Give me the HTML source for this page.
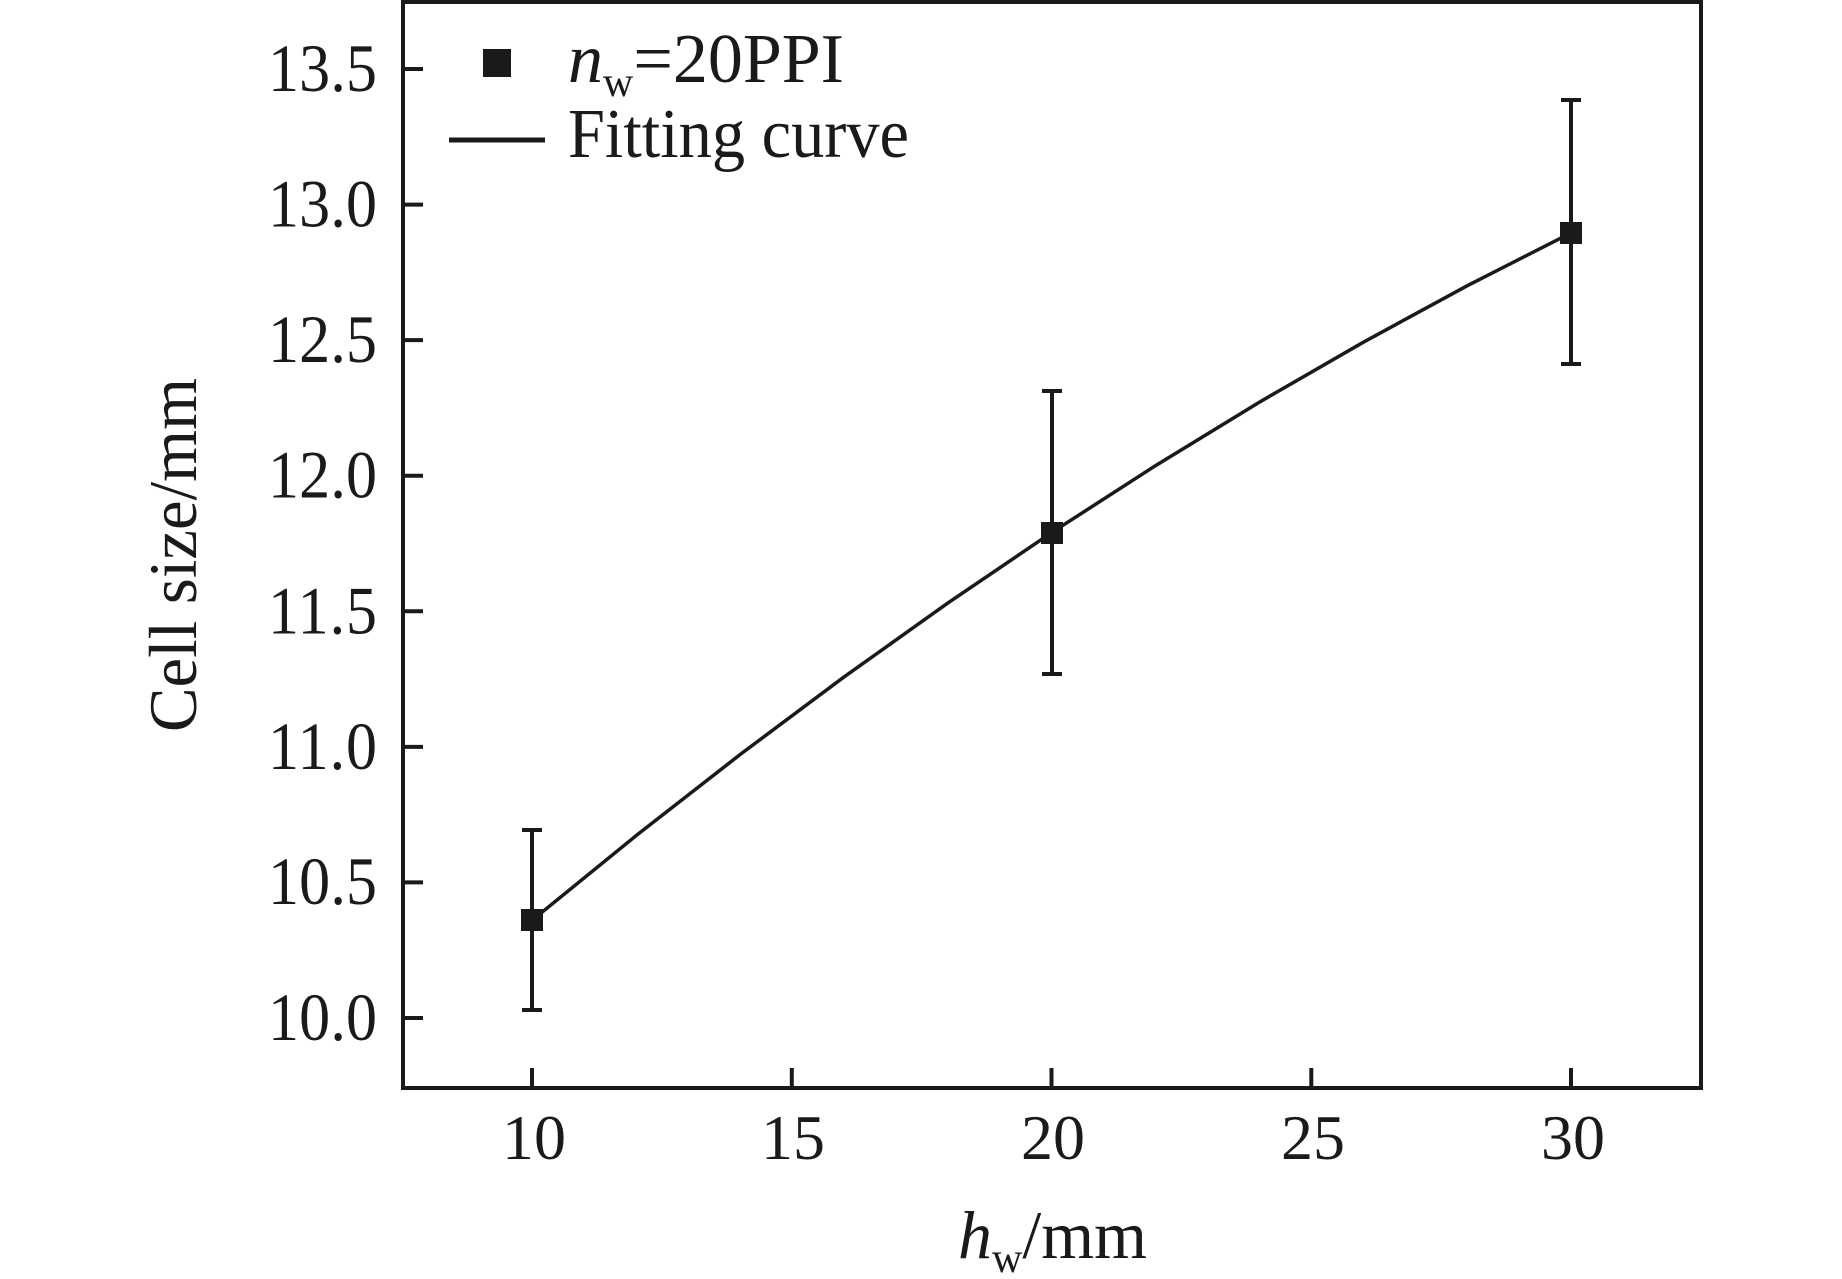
<!DOCTYPE html>
<html><head><meta charset="utf-8"><style>html,body{margin:0;padding:0;background:#fff}svg{display:block}</style></head>
<body>
<svg width="1842" height="1279" viewBox="0 0 1842 1279" xmlns="http://www.w3.org/2000/svg" font-family="Liberation Serif, serif" fill="#1a1a1a">
<rect x="0" y="0" width="1842" height="1279" fill="#fff"/>
<rect x="403" y="2" width="1298" height="1086" fill="none" stroke="#1a1a1a" stroke-width="4"/>
<g stroke="#1a1a1a" stroke-width="4">
<line x1="403" y1="1018" x2="423" y2="1018"/>
<line x1="403" y1="882.4" x2="423" y2="882.4"/>
<line x1="403" y1="746.9" x2="423" y2="746.9"/>
<line x1="403" y1="611.3" x2="423" y2="611.3"/>
<line x1="403" y1="475.7" x2="423" y2="475.7"/>
<line x1="403" y1="340.1" x2="423" y2="340.1"/>
<line x1="403" y1="204.6" x2="423" y2="204.6"/>
<line x1="403" y1="69" x2="423" y2="69"/>
<line x1="532" y1="1088" x2="532" y2="1068"/>
<line x1="791.8" y1="1088" x2="791.8" y2="1068"/>
<line x1="1051.5" y1="1088" x2="1051.5" y2="1068"/>
<line x1="1311.3" y1="1088" x2="1311.3" y2="1068"/>
<line x1="1571" y1="1088" x2="1571" y2="1068"/>
</g>
<g font-size="62" text-anchor="end">
<text x="377" y="1040" textLength="109" transform="translate(0,-104) scale(1,1.1)">10.0</text>
<text x="377" y="904" textLength="109" transform="translate(0,-90.4) scale(1,1.1)">10.5</text>
<text x="377" y="768.9" textLength="109" transform="translate(0,-76.9) scale(1,1.1)">11.0</text>
<text x="377" y="633.3" textLength="109" transform="translate(0,-63.3) scale(1,1.1)">11.5</text>
<text x="377" y="497.7" textLength="109" transform="translate(0,-49.8) scale(1,1.1)">12.0</text>
<text x="377" y="362.1" textLength="109" transform="translate(0,-36.2) scale(1,1.1)">12.5</text>
<text x="377" y="226.6" textLength="109" transform="translate(0,-22.7) scale(1,1.1)">13.0</text>
<text x="377" y="91" textLength="109" transform="translate(0,-9.1) scale(1,1.1)">13.5</text>
</g>
<g font-size="64" text-anchor="middle">
<text x="534" y="1159">10</text>
<text x="793" y="1159">15</text>
<text x="1053" y="1159">20</text>
<text x="1313" y="1159">25</text>
<text x="1573" y="1159">30</text>
</g>
<text font-size="68" transform="translate(196,732) rotate(-90)" textLength="354" lengthAdjust="spacingAndGlyphs">Cell size/mm</text>
<text x="958" y="1258" font-size="68"><tspan font-style="italic">h</tspan><tspan font-size="42" dy="14">w</tspan><tspan dy="-14">/mm</tspan></text>
<rect x="483" y="49" width="28" height="28"/>
<text x="568" y="82" font-size="70"><tspan font-style="italic">n</tspan><tspan font-size="42" dy="14">w</tspan><tspan dy="-14">=20PPI</tspan></text>
<line x1="449" y1="140" x2="545" y2="140" stroke="#1a1a1a" stroke-width="5"/>
<text x="568" y="157" font-size="70" textLength="341" lengthAdjust="spacingAndGlyphs">Fitting curve</text>
<polyline fill="none" stroke="#1a1a1a" stroke-width="3.5" points="532,920.4 635.9,835.8 739.8,754.8 843.7,677.2 947.6,603.2 1051.5,532.7 1155.4,465.7 1259.3,402.2 1363.2,342.3 1467.1,285.8 1571,232.9"/>
<g stroke="#1a1a1a" stroke-width="4">
<line x1="532" y1="830" x2="532" y2="1010"/>
<line x1="522" y1="830" x2="542" y2="830"/>
<line x1="522" y1="1010" x2="542" y2="1010"/>
<line x1="1052" y1="391" x2="1052" y2="674"/>
<line x1="1042" y1="391" x2="1062" y2="391"/>
<line x1="1042" y1="674" x2="1062" y2="674"/>
<line x1="1571" y1="100" x2="1571" y2="364"/>
<line x1="1561" y1="100" x2="1581" y2="100"/>
<line x1="1561" y1="364" x2="1581" y2="364"/>
</g>
<rect x="521" y="909" width="22" height="22"/>
<rect x="1041" y="522" width="22" height="22"/>
<rect x="1560" y="222" width="22" height="22"/>
</svg>
</body></html>
